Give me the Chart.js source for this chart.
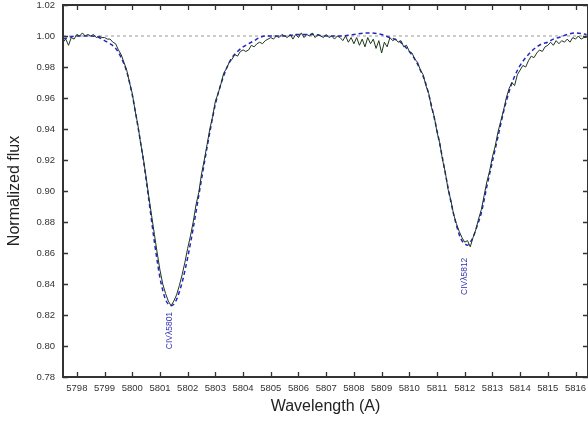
<!DOCTYPE html>
<html>
<head>
<meta charset="utf-8">
<script src="https://cdn.jsdelivr.net/npm/chart.js@4/dist/chart.umd.min.js"></script>
<style>
  body { margin: 0; background: #fff; }
  canvas { display: block; }
</style>
</head>
<body>
<canvas id="spectrum-graph" width="588" height="421"></canvas>
<script>
// observed spectrum, 0.1 A sampling
const obsWave = [
    5797.5, 5797.6, 5797.7, 5797.8, 5797.9, 5798.0, 5798.1, 5798.2, 5798.3, 5798.4,
    5798.5, 5798.6, 5798.7, 5798.8, 5798.9, 5799.0, 5799.1, 5799.2, 5799.3, 5799.4,
    5799.5, 5799.6, 5799.7, 5799.8, 5799.9, 5800.0, 5800.1, 5800.2, 5800.3, 5800.4,
    5800.5, 5800.6, 5800.7, 5800.8, 5800.9, 5801.0, 5801.1, 5801.2, 5801.3, 5801.4,
    5801.5, 5801.6, 5801.7, 5801.8, 5801.9, 5802.0, 5802.1, 5802.2, 5802.3, 5802.4,
    5802.5, 5802.6, 5802.7, 5802.8, 5802.9, 5803.0, 5803.1, 5803.2, 5803.3, 5803.4,
    5803.5, 5803.6, 5803.7, 5803.8, 5803.9, 5804.0, 5804.1, 5804.2, 5804.3, 5804.4,
    5804.5, 5804.6, 5804.7, 5804.8, 5804.9, 5805.0, 5805.1, 5805.2, 5805.3, 5805.4,
    5805.5, 5805.6, 5805.7, 5805.8, 5805.9, 5806.0, 5806.1, 5806.2, 5806.3, 5806.4,
    5806.5, 5806.6, 5806.7, 5806.8, 5806.9, 5807.0, 5807.1, 5807.2, 5807.3, 5807.4,
    5807.5, 5807.6, 5807.7, 5807.8, 5807.9, 5808.0, 5808.1, 5808.2, 5808.3, 5808.4,
    5808.5, 5808.6, 5808.7, 5808.8, 5808.9, 5809.0, 5809.1, 5809.2, 5809.3, 5809.4,
    5809.5, 5809.6, 5809.7, 5809.8, 5809.9, 5810.0, 5810.1, 5810.2, 5810.3, 5810.4,
    5810.5, 5810.6, 5810.7, 5810.8, 5810.9, 5811.0, 5811.1, 5811.2, 5811.3, 5811.4,
    5811.5, 5811.6, 5811.7, 5811.8, 5811.9, 5812.0, 5812.1, 5812.2, 5812.3, 5812.4,
    5812.5, 5812.6, 5812.7, 5812.8, 5812.9, 5813.0, 5813.1, 5813.2, 5813.3, 5813.4,
    5813.5, 5813.6, 5813.7, 5813.8, 5813.9, 5814.0, 5814.1, 5814.2, 5814.3, 5814.4,
    5814.5, 5814.6, 5814.7, 5814.8, 5814.9, 5815.0, 5815.1, 5815.2, 5815.3, 5815.4,
    5815.5, 5815.6, 5815.7, 5815.8, 5815.9, 5816.0, 5816.1, 5816.2, 5816.3, 5816.4
];
const obsFlux = [
    0.996, 0.998, 0.994, 0.999, 0.998, 1.001, 1.000, 1.002, 1.000, 1.001,
    1.000, 1.001, 0.999, 1.000, 0.999, 0.999, 0.998, 0.998, 0.996, 0.995,
    0.991, 0.988, 0.983, 0.978, 0.970, 0.963, 0.952, 0.943, 0.931, 0.921,
    0.909, 0.896, 0.884, 0.872, 0.860, 0.849, 0.840, 0.834, 0.829, 0.826,
    0.829, 0.833, 0.839, 0.846, 0.854, 0.863, 0.871, 0.880, 0.891, 0.899,
    0.911, 0.920, 0.930, 0.940, 0.948, 0.958, 0.963, 0.969, 0.976, 0.979,
    0.983, 0.985, 0.988, 0.987, 0.990, 0.991, 0.990, 0.991, 0.994, 0.993,
    0.995, 0.996, 0.995, 0.997, 0.998, 0.999, 0.998, 1.000, 0.999, 1.001,
    1.000, 0.999, 1.001, 0.998, 1.001, 0.999, 1.002, 0.999, 1.001, 1.000,
    1.002, 0.999, 1.001, 1.000, 0.999, 1.001, 0.999, 1.000, 0.998, 1.000,
    0.999, 0.997, 1.000, 0.996, 0.999, 0.995, 0.999, 0.994, 0.998, 0.993,
    0.999, 0.995, 0.998, 0.992, 0.997, 0.989, 0.996, 0.993, 0.999, 0.997,
    0.998, 0.996, 0.997, 0.993, 0.994, 0.990, 0.989, 0.985, 0.983, 0.978,
    0.975, 0.968, 0.963, 0.954, 0.948, 0.938, 0.931, 0.920, 0.912, 0.901,
    0.894, 0.885, 0.879, 0.874, 0.870, 0.867, 0.868, 0.864, 0.870, 0.875,
    0.882, 0.888, 0.897, 0.906, 0.913, 0.922, 0.929, 0.938, 0.945, 0.952,
    0.960, 0.966, 0.970, 0.968, 0.975, 0.978, 0.981, 0.980, 0.984, 0.987,
    0.986, 0.989, 0.991, 0.990, 0.993, 0.994, 0.996, 0.994, 0.997, 0.995,
    0.997, 0.996, 0.998, 0.996, 0.999, 0.998, 1.000, 0.998, 0.999, 0.999
];

// model (synthetic) spectrum
const modelWave = [
    5797.5, 5797.7, 5798.0, 5798.5, 5798.8, 5799.0, 5799.2, 5799.4, 5799.6, 5799.8,
    5800.0, 5800.2, 5800.4, 5800.6, 5800.8, 5801.0, 5801.1, 5801.2, 5801.3, 5801.4,
    5801.5, 5801.6, 5801.7, 5801.8, 5802.0, 5802.2, 5802.4, 5802.6, 5802.8, 5803.0,
    5803.2, 5803.4, 5803.6, 5803.8, 5804.0, 5804.2, 5804.4, 5804.6, 5804.8, 5805.5,
    5806.0, 5806.5, 5807.0, 5807.5, 5808.0, 5808.5, 5809.0, 5809.3, 5809.6, 5809.8,
    5810.0, 5810.2, 5810.4, 5810.6, 5810.8, 5811.0, 5811.2, 5811.4, 5811.6, 5811.8,
    5811.9, 5812.0, 5812.1, 5812.2, 5812.3, 5812.4, 5812.6, 5812.8, 5813.0, 5813.2,
    5813.4, 5813.6, 5813.8, 5814.0, 5814.2, 5814.4, 5814.6, 5814.8, 5815.0, 5815.2,
    5815.4, 5815.7, 5816.0, 5816.4
];
const modelFlux = [
    0.998, 0.999, 1.000, 1.000, 0.999, 0.997, 0.995, 0.992, 0.986, 0.977,
    0.962, 0.942, 0.920, 0.894, 0.867, 0.844, 0.836, 0.830, 0.827, 0.826,
    0.827, 0.830, 0.835, 0.841, 0.857, 0.876, 0.897, 0.918, 0.938, 0.956,
    0.969, 0.979, 0.986, 0.990, 0.993, 0.995, 0.997, 0.999, 1.000, 1.000,
    1.001, 1.001, 1.000, 1.000, 1.001, 1.002, 1.001, 0.999, 0.997, 0.994,
    0.990, 0.985, 0.978, 0.969, 0.955, 0.939, 0.921, 0.902, 0.885, 0.872,
    0.868, 0.866, 0.865, 0.867, 0.870, 0.875, 0.886, 0.903, 0.919, 0.935,
    0.951, 0.964, 0.974, 0.981, 0.986, 0.990, 0.993, 0.995, 0.996, 0.998,
    0.999, 1.001, 1.002, 1.001
];

// continuum level
const contWave = [5797.5, 5816.45];
const contFlux = [1.0, 1.0];

// line identifications
const lineNames = ['CIV\u03bb5801', 'CIV\u03bb5812'];
const lineWaves = [5801.35, 5812.0];

function toPoints(xs, ys) { // pairs the two arrays into {x, y} points
    return xs.map((x, i) => ({ x: x, y: ys[i] }));
}

const frameAndLabels = { // draws the box with inward ticks and the line ids
    id: 'frameAndLabels',
    afterDatasetsDraw(chart) {
        const ctx = chart.ctx;
        const a = chart.chartArea;
        const xs = chart.scales.x;
        const ys = chart.scales.y;
        ctx.save();
        ctx.strokeStyle = '#333';
        ctx.lineWidth = 1.3;
        xs.ticks.forEach(t => {
            const px = Math.round(xs.getPixelForValue(t.value)) + 0.5;
            ctx.beginPath();
            ctx.moveTo(px, a.bottom); ctx.lineTo(px, a.bottom - 5);
            ctx.moveTo(px, a.top); ctx.lineTo(px, a.top + 5);
            ctx.stroke();
        });
        ys.ticks.forEach(t => {
            const py = Math.round(ys.getPixelForValue(t.value)) + 0.5;
            ctx.beginPath();
            ctx.moveTo(a.left, py); ctx.lineTo(a.left + 5, py);
            ctx.moveTo(a.right, py); ctx.lineTo(a.right - 5, py);
            ctx.stroke();
        });
        ctx.lineWidth = 2;
        ctx.strokeRect(a.left, a.top, a.right - a.left, a.bottom - a.top);

        // line ids, written upwards below each line core
        const topFlux = [0.822, 0.857];
        ctx.fillStyle = '#3535b5';
        ctx.font = '8.5px "Liberation Sans", Arial, sans-serif';
        ctx.textAlign = 'right';
        ctx.textBaseline = 'middle';
        lineNames.forEach((name, i) => {
            ctx.save();
            ctx.translate(xs.getPixelForValue(lineWaves[i]), ys.getPixelForValue(topFlux[i]));
            ctx.rotate(-Math.PI / 2);
            ctx.fillText(name, 0, 0);
            ctx.restore();
        });
        ctx.restore();
    }
};

function spectrumGraph() { // builds the line chart with the observed and model spectra
    const ctx = document.getElementById('spectrum-graph').getContext('2d');
    const font = '"Liberation Sans", Arial, sans-serif';
    new Chart(ctx, {
        type: 'line',
        data: {
            datasets: [
                {
                    label: 'Observed',
                    data: toPoints(obsWave, obsFlux),
                    borderColor: '#1d361d',
                    borderWidth: 1,
                    pointRadius: 0,
                    tension: 0
                },
                {
                    label: 'Model',
                    data: toPoints(modelWave, modelFlux),
                    borderColor: '#2424c4',
                    borderWidth: 1.5,
                    borderDash: [4, 3],
                    pointRadius: 0,
                    cubicInterpolationMode: 'monotone'
                },
                {
                    label: 'Continuum',
                    data: toPoints(contWave, contFlux),
                    borderColor: '#9a9a9a',
                    borderWidth: 1,
                    borderDash: [3, 3],
                    pointRadius: 0
                }
            ]
        },
        options: {
            responsive: false,
            animation: false,
            devicePixelRatio: 1,
            layout: { padding: { top: 5, right: 0, left: 0, bottom: 0 } },
            plugins: {
                legend: { display: false },
                tooltip: { enabled: false }
            },
            scales: {
                x: {
                    type: 'linear',
                    min: 5797.5,
                    max: 5816.45,
                    border: { display: false },
                    grid: { display: false, drawTicks: false },
                    ticks: {
                        stepSize: 1,
                        includeBounds: false,
                        maxRotation: 0,
                        autoSkip: false,
                        padding: 6,
                        color: '#333',
                        font: { family: font, size: 9.5 },
                        callback: v => String(v)
                    },
                    title: {
                        display: true,
                        text: 'Wavelength (A)',
                        color: '#222',
                        font: { family: font, size: 16 },
                        padding: { top: 0, bottom: 4.5 }
                    },
                    afterFit: s => {
                        s.height = 44;
                        s.paddingLeft = 0;
                        s.paddingRight = 0;
                    }
                },
                y: {
                    min: 0.78,
                    max: 1.02,
                    border: { display: false },
                    grid: { display: false, drawTicks: false },
                    ticks: {
                        stepSize: 0.02,
                        padding: 8,
                        color: '#333',
                        font: { family: font, size: 9.5 },
                        callback: v => v.toFixed(2)
                    },
                    title: {
                        display: true,
                        text: 'Normalized flux',
                        color: '#222',
                        font: { family: font, size: 16 },
                        padding: { top: 4.5, bottom: 0 }
                    },
                    afterFit: s => {
                        s.width = 63;
                        s.paddingTop = 0;
                        s.paddingBottom = 0;
                    }
                }
            }
        },
        plugins: [frameAndLabels]
    });
}

window.onload = () => {
    spectrumGraph();
}
</script>
</body>
</html>
